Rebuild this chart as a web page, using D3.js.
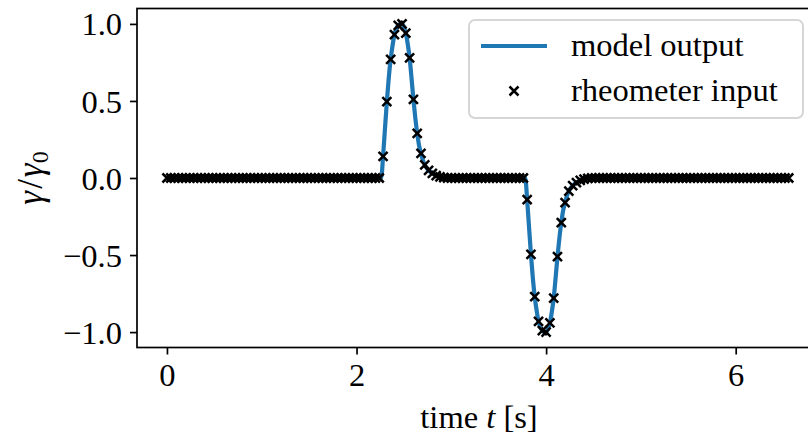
<!DOCTYPE html>
<html>
<head>
<meta charset="utf-8">
<script src="https://cdn.jsdelivr.net/npm/d3@7"></script>
<style>
  body { margin: 0; background: #fff; }
  svg { display: block; }
  text { font-family: "Liberation Serif", "DejaVu Serif", serif; fill: #000; }
</style>
</head>
<body>
<svg class="chart" width="808" height="437"></svg>
<script>
// rheometer samples (crosses)
var rheoTime = [
  0, 0.04, 0.08, 0.12, 0.16, 0.2, 0.24, 0.28, 0.32, 0.36,
  0.4, 0.44, 0.48, 0.52, 0.56, 0.6, 0.64, 0.68, 0.72, 0.76,
  0.8, 0.84, 0.88, 0.92, 0.96, 1.0, 1.04, 1.08, 1.12, 1.16,
  1.2, 1.24, 1.28, 1.32, 1.36, 1.4, 1.44, 1.48, 1.52, 1.56,
  1.6, 1.64, 1.68, 1.72, 1.76, 1.8, 1.84, 1.88, 1.92, 1.96,
  2.0, 2.04, 2.08, 2.12, 2.16, 2.2, 2.24, 2.28, 2.32, 2.36,
  2.4, 2.44, 2.48, 2.52, 2.56, 2.6, 2.64, 2.68, 2.72, 2.76,
  2.8, 2.84, 2.88, 2.92, 2.96, 3.0, 3.04, 3.08, 3.12, 3.16,
  3.2, 3.24, 3.28, 3.32, 3.36, 3.4, 3.44, 3.48, 3.52, 3.56,
  3.6, 3.64, 3.68, 3.72, 3.76, 3.8, 3.84, 3.88, 3.92, 3.96,
  4.0, 4.04, 4.08, 4.12, 4.16, 4.2, 4.24, 4.28, 4.32, 4.36,
  4.4, 4.44, 4.48, 4.52, 4.56, 4.6, 4.64, 4.68, 4.72, 4.76,
  4.8, 4.84, 4.88, 4.92, 4.96, 5.0, 5.04, 5.08, 5.12, 5.16,
  5.2, 5.24, 5.28, 5.32, 5.36, 5.4, 5.44, 5.48, 5.52, 5.56,
  5.6, 5.64, 5.68, 5.72, 5.76, 5.8, 5.84, 5.88, 5.92, 5.96,
  6.0, 6.04, 6.08, 6.12, 6.16, 6.2, 6.24, 6.28, 6.32, 6.36,
  6.4, 6.44, 6.48, 6.52, 6.56
];
var rheoGamma = [
  0, 0, 0, 0, 0, 0, 0, 0, 0, 0,
  0, 0, 0, 0, 0, 0, 0, 0, 0, 0,
  0, 0, 0, 0, 0, 0, 0, 0, 0, 0,
  0, 0, 0, 0, 0, 0, 0, 0, 0, 0,
  0, 0, 0, 0, 0, 0, 0, 0, 0, 0,
  0, 0, 0, 0, 0, 0, 0, 0.14, 0.495, 0.77,
  0.93, 0.99, 1.0, 0.94, 0.78, 0.51, 0.29, 0.16, 0.085, 0.05,
  0.03, 0.015, 0.008, 0.003, 0, 0, 0, 0, 0, 0,
  0, 0, 0, 0, 0, 0, 0, 0, 0, 0,
  0, 0, 0, 0, 0, -0.14, -0.495, -0.77, -0.93, -0.99,
  -1.0, -0.94, -0.78, -0.51, -0.29, -0.16, -0.085, -0.05, -0.03, -0.015,
  -0.008, -0.003, 0, 0, 0, 0, 0, 0, 0, 0,
  0, 0, 0, 0, 0, 0, 0, 0, 0, 0,
  0, 0, 0, 0, 0, 0, 0, 0, 0, 0,
  0, 0, 0, 0, 0, 0, 0, 0, 0, 0,
  0, 0, 0, 0, 0, 0, 0, 0, 0, 0,
  0, 0, 0, 0, 0
];

// model output (line)
var modelTime = [
  0, 2.26, 2.28, 2.3, 2.32, 2.34, 2.36, 2.38, 2.4, 2.42, 2.44, 2.46, 2.48, 2.5,
  2.52, 2.54, 2.56, 2.58, 2.6, 2.62, 2.64, 2.66, 2.68, 2.7, 2.72, 2.74, 2.76,
  2.8, 2.84, 2.9, 2.96, 3.02,
  3.78, 3.8, 3.82, 3.84, 3.86, 3.88, 3.9, 3.92, 3.94, 3.96, 3.98, 4.0, 4.02,
  4.04, 4.06, 4.08, 4.1, 4.12, 4.14, 4.16, 4.18, 4.2, 4.22, 4.24, 4.26, 4.28,
  4.32, 4.36, 4.42, 4.48, 4.54,
  6.56
];
var modelGamma = [
  0, 0, 0.14, 0.32, 0.495, 0.65, 0.77, 0.86, 0.93, 0.97, 0.99, 1.0, 1.0, 0.98,
  0.94, 0.87, 0.78, 0.65, 0.51, 0.39, 0.29, 0.21, 0.16, 0.115, 0.085, 0.065, 0.05,
  0.03, 0.015, 0.006, 0.002, 0,
  0, -0.14, -0.32, -0.495, -0.65, -0.77, -0.86, -0.93, -0.97, -0.99, -1.0, -1.0, -0.98,
  -0.94, -0.87, -0.78, -0.65, -0.51, -0.39, -0.29, -0.21, -0.16, -0.115, -0.085, -0.065, -0.05,
  -0.03, -0.015, -0.006, -0.002, 0,
  0
];

var xTicks = [0, 2, 4, 6];
var yTicks = [-1.0, -0.5, 0.0, 0.5, 1.0];
var legendLabels = ["model output", "rheometer input"];

var pL = 137, pR = 821, pT = 8.5, pB = 347.5;
var blue = "#1f77b4";
var fs = 32.5;

var svg = d3.select("svg.chart");

var x = d3.scaleLinear().domain([-0.316, 6.9]).range([pL, pR]);
var y = d3.scaleLinear().domain([-1.1, 1.1]).range([pB, pT]);

var plot = svg.append("g");

// model line
var line = d3.line()
    .x(function(d){ return x(d[0]); })
    .y(function(d){ return y(d[1]); })
    .curve(d3.curveMonotoneX);
plot.append("path")
    .datum(modelTime.map(function(t,i){ return [t, modelGamma[i]]; }))
    .attr("d", line)
    .attr("fill", "none")
    .attr("stroke", blue)
    .attr("stroke-width", 4.2)
    .attr("stroke-linejoin", "round");

// crosses
var cross = "M-4.5,-4.5L4.5,4.5M-4.5,4.5L4.5,-4.5";
plot.selectAll("path.pt")
    .data(rheoTime.map(function(t,i){ return [t, rheoGamma[i]]; }))
    .enter().append("path")
    .attr("class", "pt")
    .attr("transform", function(d){ return "translate(" + x(d[0]) + "," + y(d[1]) + ")"; })
    .attr("d", cross)
    .attr("stroke", "#000")
    .attr("stroke-width", 2.5)
    .attr("fill", "none");

// axes frame
svg.append("rect")
    .attr("x", pL).attr("y", pT)
    .attr("width", pR - pL).attr("height", pB - pT)
    .attr("fill", "none")
    .attr("stroke", "#000")
    .attr("stroke-width", 1.7);

// x axis
var xAxis = d3.axisBottom(x).tickValues(xTicks).tickSize(7).tickPadding(8)
    .tickFormat(d3.format("d"));
var gx = svg.append("g").attr("transform", "translate(0," + pB + ")").call(xAxis);
gx.select(".domain").remove();
gx.selectAll(".tick line").attr("stroke", "#000").attr("stroke-width", 1.7);
gx.selectAll(".tick text")
    .attr("font-size", fs)
    .attr("font-family", "Liberation Serif")
    .attr("dy", "0.72em");

// y axis
var yAxis = d3.axisLeft(y).tickValues(yTicks).tickSize(7).tickPadding(8)
    .tickFormat(function(d){ return d3.format(".1f")(d).replace("-", "\u2212"); });
var gy = svg.append("g").attr("transform", "translate(" + pL + ",0)").call(yAxis);
gy.select(".domain").remove();
gy.selectAll(".tick line").attr("stroke", "#000").attr("stroke-width", 1.7);
gy.selectAll(".tick text")
    .attr("font-size", fs)
    .attr("font-family", "Liberation Serif")
    .attr("dy", "0.34em");

// x label
var xl = svg.append("text")
    .attr("x", (pL + pR) / 2)
    .attr("y", 428)
    .attr("text-anchor", "middle")
    .attr("font-size", fs);
xl.append("tspan").text("time ");
xl.append("tspan").attr("font-style", "italic").text("t");
xl.append("tspan").text(" [s]");

// y label
var yl = svg.append("text")
    .attr("transform", "translate(42," + y(0) + ") rotate(-90)")
    .attr("text-anchor", "middle")
    .attr("font-size", 35);
yl.append("tspan").attr("font-style", "italic").text("\u03b3");
yl.append("tspan").attr("dx", 2).text("/");
yl.append("tspan").attr("dx", 2).attr("font-style", "italic").text("\u03b3");
yl.append("tspan").attr("font-size", 24).attr("dy", 6).text("0");

// legend
var lg = svg.append("g");
lg.append("rect")
    .attr("x", 469).attr("y", 20)
    .attr("width", 334).attr("height", 98)
    .attr("rx", 6)
    .attr("fill", "#fff").attr("fill-opacity", 0.8)
    .attr("stroke", "#d6d6d6").attr("stroke-width", 2);
lg.append("line")
    .attr("x1", 481).attr("x2", 547)
    .attr("y1", 46).attr("y2", 46)
    .attr("stroke", blue).attr("stroke-width", 4.2);
lg.append("path")
    .attr("transform", "translate(514,91)")
    .attr("d", cross)
    .attr("stroke", "#000").attr("stroke-width", 2.5);
lg.selectAll("text.lab")
    .data(legendLabels)
    .enter().append("text")
    .attr("class", "lab")
    .attr("x", 571)
    .attr("y", function(d,i){ return 56 + i * 45; })
    .attr("font-size", fs)
    .text(function(d){ return d; });
</script>
</body>
</html>
